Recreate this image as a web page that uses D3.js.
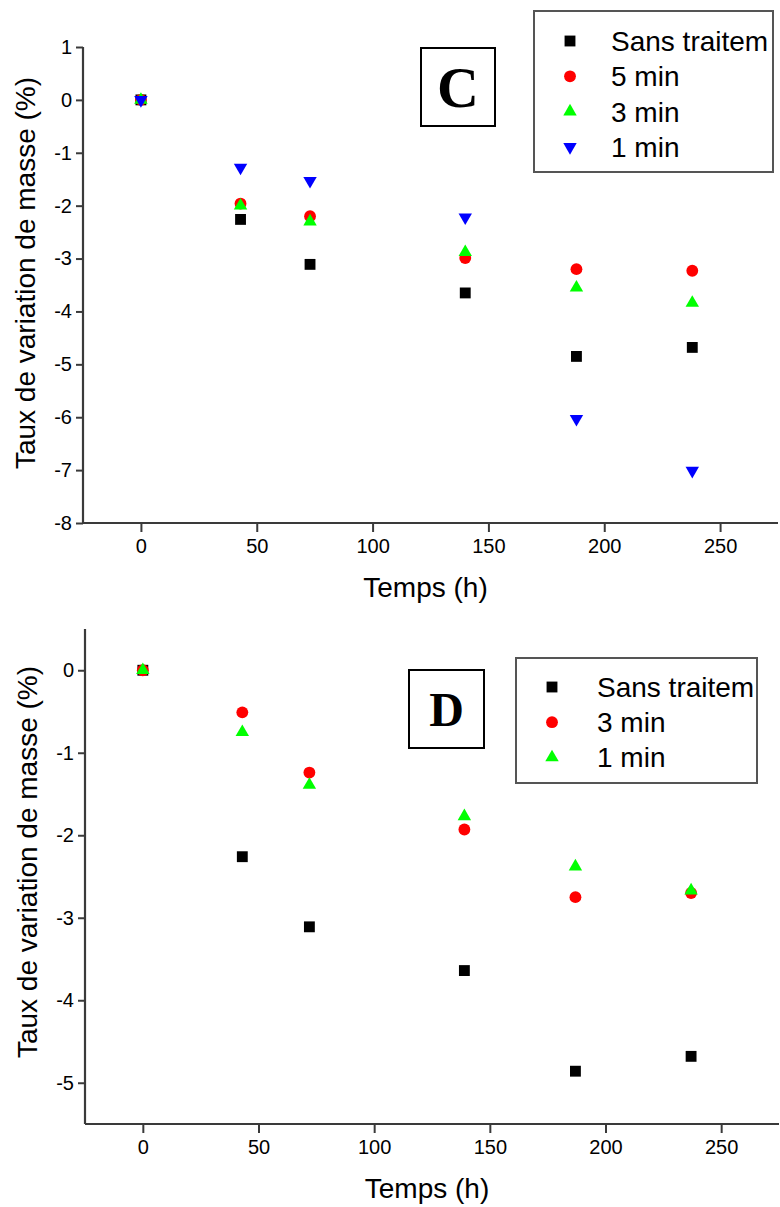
<!DOCTYPE html>
<html>
<head>
<meta charset="utf-8">
<script src="https://cdn.jsdelivr.net/npm/d3@7"></script>
<style>
  html, body { margin: 0; padding: 0; background: #fff; }
  svg { display: block; }
  text { font-family: "Liberation Sans", Arial, sans-serif; fill: #000; }
</style>
</head>
<body>
<script>
// ---------- Data ----------
// Panel C
const timesC = [0, 43, 73, 140, 188, 238];
const sansTraitementC = [0, -2.26, -3.11, -3.65, -4.85, -4.68];
const min5C = [0, -1.96, -2.20, -2.99, -3.20, -3.23];
const min3C = [0, -2.00, -2.30, -2.88, -3.55, -3.84];
const min1C = [0, -1.28, -1.53, -2.22, -6.03, -7.01];
const seriesNamesC = ["Sans traitem", "5 min", "3 min", "1 min"];
const yTicksC = [1, 0, -1, -2, -3, -4, -5, -6, -7, -8];

// Panel D
const timesD = [0, 43, 72, 139, 187, 237];
const sansTraitementD = [0, -2.26, -3.11, -3.64, -4.86, -4.68];
const min3D = [0, -0.51, -1.24, -1.93, -2.75, -2.70];
const min1D = [0, -0.75, -1.39, -1.77, -2.38, -2.67];
const seriesNamesD = ["Sans traitem", "3 min", "1 min"];
const yTicksD = [0, -1, -2, -3, -4, -5];

const xTicks = [0, 50, 100, 150, 200, 250];
const xLabel = "Temps (h)";
const yLabel = "Taux de variation de masse (%)";

// ---------- Drawing ----------
const W = 780, H = 1207;
const svg = d3.select("body").append("svg").attr("width", W).attr("height", H);
svg.append("rect").attr("width", W).attr("height", H).attr("fill", "#fff");

const symbolDefs = {
  square:  { type: d3.symbolSquare, size: 118, rot: 0, color: "#000000" },
  circle:  { type: d3.symbolCircle, size: 110, rot: 0, color: "#ff0000" },
  up:      { type: d3.symbolTriangle, size: 78, rot: 0, color: "#00ff00" },
  down:    { type: d3.symbolTriangle, size: 78, rot: 180, color: "#0000ff" }
};

function drawPanel(cfg) {
  const g = svg.append("g");
  const x = d3.scaleLinear().domain([-25, 275]).range([cfg.left, cfg.right]);
  const y = d3.scaleLinear().domain(cfg.yDomain).range([cfg.bottom, cfg.top]);
  const fmt = d => String(d);

  // minor ticks
  const xMinor = d3.range(-25, 276, 25).filter(v => v % 50 !== 0);
  const yMinor = d3.range(cfg.yDomain[0], cfg.yDomain[1] + 0.001, 0.5).filter(v => Math.abs(v % 1) > 0.01);

  const axisColor = "#3a3a3a";

  const xAxisG = g.append("g").attr("transform", `translate(0,${cfg.bottom})`);
  xAxisG.call(d3.axisBottom(x).tickValues(xMinor).tickSize(5).tickFormat(""));
  xAxisG.call(d3.axisBottom(x).tickValues(xTicks).tickSize(9).tickPadding(7).tickFormat(fmt));
  xAxisG.selectAll(".domain").remove();
  const yAxisG = g.append("g").attr("transform", `translate(${cfg.left},0)`);
  yAxisG.call(d3.axisLeft(y).tickValues(yMinor).tickSize(5).tickFormat(""));
  yAxisG.call(d3.axisLeft(y).tickValues(cfg.yTicks).tickSize(7).tickPadding(4).tickFormat(fmt));
  yAxisG.selectAll(".domain").remove();
  g.selectAll(".tick line").attr("stroke", axisColor).attr("stroke-width", 2);
  g.selectAll(".tick text").style("font-size", "20px").style("font-family", '"Liberation Sans", Arial, sans-serif').attr("fill", "#222");

  // axis lines
  g.append("line").attr("x1", cfg.left).attr("x2", cfg.right).attr("y1", cfg.bottom).attr("y2", cfg.bottom)
    .attr("stroke", axisColor).attr("stroke-width", 2.2);
  g.append("line").attr("x1", cfg.left).attr("x2", cfg.left).attr("y1", cfg.top).attr("y2", cfg.bottom)
    .attr("stroke", axisColor).attr("stroke-width", 2.2);

  // axis titles
  g.append("text").attr("x", (cfg.left + cfg.right) / 2 - 5).attr("y", cfg.xTitleY)
    .attr("text-anchor", "middle").style("font-size", "28px").attr("fill", "#222").text(xLabel);
  g.append("text").attr("transform", `translate(${cfg.yTitleX},${cfg.yTitleCY}) rotate(-90)`)
    .attr("text-anchor", "middle").style("font-size", "28px").attr("fill", "#222").text(yLabel);

  // points
  cfg.series.forEach(s => {
    const def = symbolDefs[s.symbol];
    const sym = d3.symbol().type(def.type).size(def.size);
    g.append("g").selectAll("path").data(s.values).join("path")
      .attr("d", sym)
      .attr("fill", def.color)
      .attr("transform", (v, i) => `translate(${x(cfg.times[i])},${y(v)}) rotate(${def.rot})`);
  });

  // panel label box
  const lb = cfg.labelBox;
  g.append("rect").attr("x", lb.x).attr("y", lb.y).attr("width", lb.w).attr("height", lb.h)
    .attr("fill", "#fff").attr("stroke", "#000").attr("stroke-width", 2);
  g.append("text").attr("x", lb.x + lb.w / 2).attr("y", lb.ty)
    .attr("text-anchor", "middle")
    .style("font-family", '"Liberation Serif", "Times New Roman", serif')
    .style("font-weight", "bold").style("font-size", lb.fs + "px")
    .text(lb.text);

  // legend
  const L = cfg.legend;
  g.append("rect").attr("x", L.x).attr("y", L.y).attr("width", L.w).attr("height", L.h)
    .attr("fill", "#fff").attr("stroke", "#555").attr("stroke-width", 2);
  cfg.series.forEach((s, i) => {
    const def = symbolDefs[s.symbol];
    const cy = L.row0 + i * L.rowH;
    g.append("path").attr("d", d3.symbol().type(def.type).size(def.size)())
      .attr("fill", def.color)
      .attr("transform", `translate(${L.symX},${cy}) rotate(${def.rot})`);
    g.append("text").attr("x", L.textX).attr("y", cy + 10)
      .style("font-size", "28px").attr("fill", "#222").text(s.name);
  });
}

drawPanel({
  left: 83, right: 778, top: 47, bottom: 523,
  yDomain: [-8, 1], yTicks: yTicksC,
  times: timesC,
  xTitleY: 597, yTitleX: 35, yTitleCY: 273,
  series: [
    { name: seriesNamesC[0], values: sansTraitementC, symbol: "square" },
    { name: seriesNamesC[1], values: min5C, symbol: "circle" },
    { name: seriesNamesC[2], values: min3C, symbol: "up" },
    { name: seriesNamesC[3], values: min1C, symbol: "down" }
  ],
  labelBox: { x: 421, y: 48, w: 74, h: 78, text: "C", fs: 58, ty: 107 },
  legend: { x: 534, y: 11, w: 239, h: 161, symX: 570, textX: 611, row0: 41, rowH: 35.3 }
});

drawPanel({
  left: 85, right: 779, top: 629, bottom: 1124,
  yDomain: [-5.5, 0.5], yTicks: yTicksD,
  times: timesD,
  xTitleY: 1198, yTitleX: 37, yTitleCY: 862,
  series: [
    { name: seriesNamesD[0], values: sansTraitementD, symbol: "square" },
    { name: seriesNamesD[1], values: min3D, symbol: "circle" },
    { name: seriesNamesD[2], values: min1D, symbol: "up" }
  ],
  labelBox: { x: 409, y: 670, w: 75, h: 78, text: "D", fs: 48, ty: 726 },
  legend: { x: 516, y: 658, w: 241, h: 125, symX: 552, textX: 597, row0: 687, rowH: 35.2 }
});
</script>
</body>
</html>
